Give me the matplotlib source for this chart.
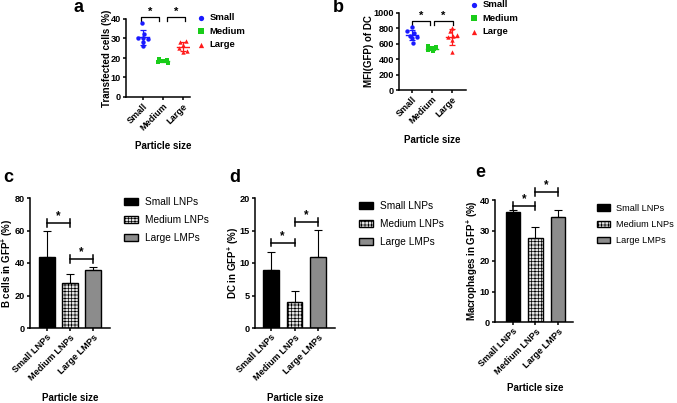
import numpy as np
import matplotlib
matplotlib.use("Agg")
import matplotlib.pyplot as plt

plt.rcParams["font.family"] = ["Liberation Sans", "DejaVu Sans"]
plt.rcParams["font.weight"] = "bold"
plt.rcParams["axes.labelweight"] = "bold"
plt.rcParams["mathtext.fontset"] = "custom"
plt.rcParams["mathtext.rm"] = "Liberation Sans:bold"
plt.rcParams["mathtext.default"] = "rm"
plt.rcParams["hatch.linewidth"] = 0.5

# ---- data ----
size_cats = ["Small", "Medium", "Large"]
transfected_small = [38, 32.5, 30.2, 30, 29.8, 28.3, 26]
transfected_medium = [19.5, 19, 18.6, 18.4, 18.1, 17.6]
transfected_large = [28.5, 28, 26.5, 25, 23.5, 23]
mfi_small = [820, 760, 735, 705, 690, 680, 615]
mfi_medium = [565, 555, 545, 540, 530, 520, 505]
mfi_large = [800, 760, 720, 705, 690, 645, 490]

lnp_cats = ["Small LNPs", "Medium LNPs", "Large LMPs"]
bcells_mean = [44, 27.5, 36]
bcells_err = [16, 5.5, 1.5]
dc_mean = [9, 4, 11]
dc_err = [2.7, 1.7, 4.1]
mac_mean = [36.2, 27.7, 34.5]
mac_err = [0.6, 3.3, 2.3]

# jitter for the scatter dots (x offset per point)
jit_a = [[-0.03, 0.05, -0.27, 0.02, 0.23, 0.0, 0.0],
         [-0.2, 0.2, -0.1, 0.1, -0.25, 0.25],
         [0.15, -0.15, 0.0, -0.2, 0.2, 0.0]]
jit_b = [[0.0, -0.25, 0.1, -0.1, 0.25, 0.0, 0.05],
         [-0.2, 0.2, 0.0, -0.1, 0.1, -0.2, 0.05],
         [0.0, -0.1, 0.25, 0.05, -0.2, 0.0, 0.0]]

W, H = 677, 403
fig = plt.figure(figsize=(W / 100, H / 100), dpi=100)


def add_ax(x0, x1, ytop, ybot):
    return fig.add_axes([x0 / W, 1 - ybot / H, (x1 - x0) / W, (ybot - ytop) / H])


def style(ax):
    for s in ("top", "right"):
        ax.spines[s].set_visible(False)
    for s in ("left", "bottom"):
        ax.spines[s].set_linewidth(1.1)
    ax.tick_params(width=1.1, length=2.5, labelsize=6.6, pad=1)


def ylabel_at(ax, text, px, size=7):
    x0 = ax.get_position().x0 * W
    w = ax.get_position().width * W
    ax.set_ylabel(text, fontsize=size)
    ax.yaxis.label.set_verticalalignment("center")
    ax.yaxis.set_label_coords((px - x0) / w, 0.5)


def scatter_panel(ax, groups, jits, ylim, yticks):
    colors = ["#1a1aff", "#19cc19", "#ff1a1a"]
    markers = ["o", "s", "^"]
    handles = []
    for i, vals in enumerate(groups):
        vals = np.array(vals)
        xs = i + np.array(jits[i][:len(vals)])
        h = ax.scatter(xs, vals, s=10, color=colors[i], marker=markers[i],
                       lw=0, clip_on=False, zorder=3)
        handles.append(h)
        m, sd = vals.mean(), vals.std(ddof=1)
        ax.plot([i - 0.3, i + 0.3], [m, m], color=colors[i], lw=1, zorder=4)
        ax.errorbar(i, m, yerr=sd, color=colors[i], capsize=2.5,
                    elinewidth=0.9, capthick=0.9, zorder=4)
    ax.set_ylim(*ylim)
    ax.set_yticks(yticks)
    ax.set_xticks(range(3))
    ax.set_xticklabels(size_cats, rotation=45, ha="right",
                       rotation_mode="anchor")
    style(ax)
    return handles


def star(ax, x, y, size):
    ax.annotate("*", (x, y), xytext=(0, 0.5), textcoords="offset points",
                ha="center", va="bottom", fontsize=size, annotation_clip=False)


def bracket_down(ax, x1, x2, y, h):
    ax.plot([x1, x1, x2, x2], [y - h, y, y, y - h], color="black", lw=0.9,
            clip_on=False)
    star(ax, (x1 + x2) / 2, y, 8)


def bracket_h(ax, x1, x2, y, h):
    ax.plot([x1, x2], [y, y], color="black", lw=1.1, clip_on=False)
    for xx in (x1, x2):
        ax.plot([xx, xx], [y - h, y + h], color="black", lw=1.1, clip_on=False)
    star(ax, (x1 + x2) / 2, y, 8.5)


def bar_panel(ax, means, errs, ylim, yticks, xlim):
    x = np.arange(3)
    faces = ["black", "#e4e4e4", "#8c8c8c"]
    hatches = [None, "+++++", None]
    handles = []
    ax.errorbar(x, means, yerr=[np.zeros(3), errs], fmt="none", ecolor="black",
                capsize=3, elinewidth=0.8, capthick=0.8, zorder=1,
                clip_on=False)
    for i in range(3):
        b = ax.bar(x[i], means[i], width=0.66, color=faces[i],
                   edgecolor="black", lw=1, hatch=hatches[i], zorder=2)
        handles.append(b)
    ax.set_xlim(*xlim)
    ax.set_ylim(*ylim)
    ax.set_yticks(yticks)
    ax.set_xticks(x)
    ax.set_xticklabels(lnp_cats, rotation=45, ha="right",
                       rotation_mode="anchor", fontsize=6.4)
    style(ax)
    return handles


def bar_legend(ax, handles, px, py, size=7.3):
    ax.legend(handles, lnp_cats, loc="upper left",
              bbox_to_anchor=(px / W, 1 - py / H), bbox_transform=fig.transFigure,
              frameon=False, borderaxespad=0, borderpad=0, handlelength=1.4,
              handleheight=0.75, labelspacing=0.78, handletextpad=0.7,
              prop={"size": size, "weight": "normal"})


def dot_legend(ax, handles, px, py):
    ax.legend(handles, size_cats, loc="upper left",
              bbox_to_anchor=(px / W, 1 - py / H), bbox_transform=fig.transFigure,
              frameon=False, borderaxespad=0, borderpad=0, handlelength=0.6,
              labelspacing=0.5, handletextpad=0.6, scatterpoints=1,
              markerscale=1.2, prop={"size": 6.8, "weight": "bold"})


# ---- panel a ----
ax_a = add_ax(126, 190, 19, 97)
ax_a.set_xlim(-0.85, 2.35)
h = scatter_panel(ax_a, [transfected_small, transfected_medium, transfected_large],
                  jit_a, (0, 40), [0, 10, 20, 30, 40])
ylabel_at(ax_a, "Transfected cells (%)", 107)
bracket_down(ax_a, -0.1, 0.8, 40.9, 1.8)
bracket_down(ax_a, 1.2, 2.1, 40.9, 1.8)
dot_legend(ax_a, h, 198, 13)

# ---- panel b ----
ax_b = add_ax(399, 466, 13, 90)
ax_b.set_xlim(-0.65, 2.7)
h = scatter_panel(ax_b, [mfi_small, mfi_medium, mfi_large],
                  jit_b, (0, 1000), [0, 200, 400, 600, 800, 1000])
ylabel_at(ax_b, "MFI(GFP) of DC", 369)
bracket_down(ax_b, 0.0, 0.9, 892, 45)
bracket_down(ax_b, 1.1, 2.05, 892, 45)
dot_legend(ax_b, h, 471, 0)

# ---- panel c ----
ax_c = add_ax(30, 110, 198, 328)
h = bar_panel(ax_c, bcells_mean, bcells_err, (0, 80), [0, 20, 40, 60, 80],
              (-0.74, 2.74))
ylabel_at(ax_c, r"B cells in GFP$^{+}$ (%)", 7)
bracket_h(ax_c, 0, 1, 64.6, 2.2)
bracket_h(ax_c, 1, 2, 42.5, 2.2)
bar_legend(ax_c, h, 124, 197)

# ---- panel d ----
ax_d = add_ax(255, 335, 198, 328)
h = bar_panel(ax_d, dc_mean, dc_err, (0, 20), [0, 5, 10, 15, 20],
              (-0.68, 2.72))
ylabel_at(ax_d, r"DC in GFP$^{+}$ (%)", 233)
bracket_h(ax_d, 0, 1, 13.1, 0.55)
bracket_h(ax_d, 1, 2, 16.3, 0.55)
bar_legend(ax_d, h, 359, 201)

# ---- panel e ----
ax_e = add_ax(495, 573, 200, 322)
h = bar_panel(ax_e, mac_mean, mac_err, (0, 40), [0, 10, 20, 30, 40],
              (-0.8, 2.67))
ylabel_at(ax_e, r"Macrophages in GFP$^{+}$ (%)", 472)
bracket_h(ax_e, 0, 1, 38.0, 1.2)
bracket_h(ax_e, 1, 2, 42.6, 1.2)
bar_legend(ax_e, h, 597, 204, size=6.6)

# x labels and panel letters
for px, py in [(163, 146), (432, 140), (70, 398), (295, 398), (535, 388)]:
    fig.text(px / W, 1 - py / H, "Particle size", ha="center", va="center",
             fontsize=7)
for letter, px, py in [("a", 79, 7), ("b", 338, 7), ("c", 8, 178),
                       ("d", 235, 177), ("e", 480, 173)]:
    fig.text(px / W, 1 - py / H, letter, ha="center", va="center", fontsize=13)

fig.savefig("out.png", dpi=100)
